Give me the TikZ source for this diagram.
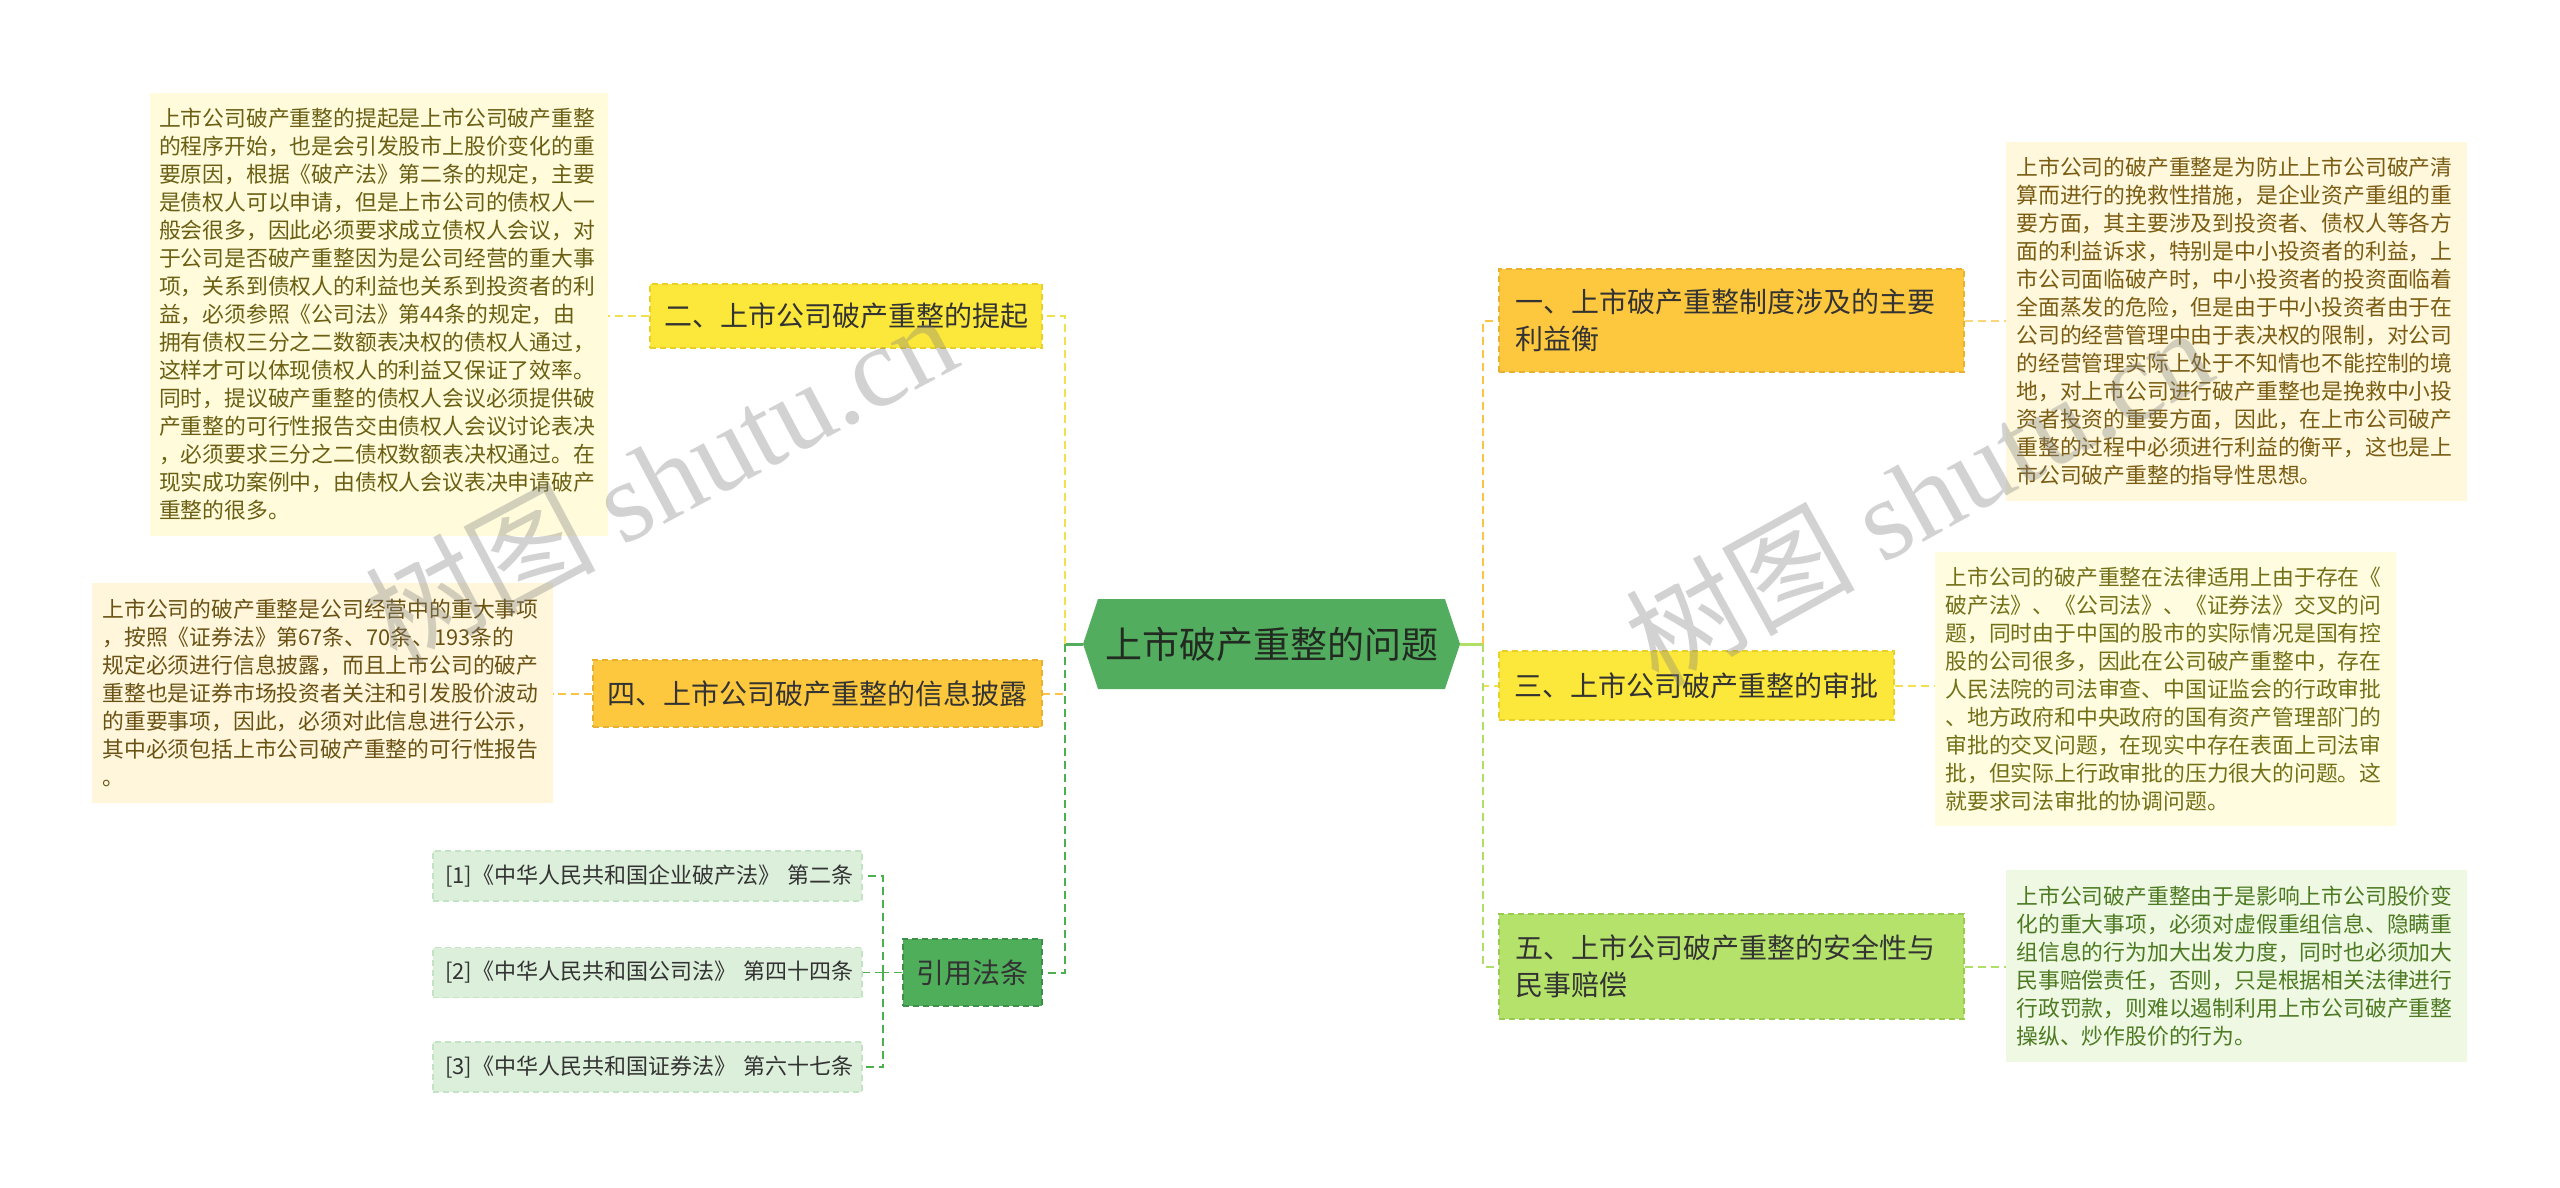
\documentclass[tikz,border=0pt]{standalone}
\usepackage{fontspec}
\setmainfont{Noto Sans CJK SC}
\newfontfamily\wmfont{Liberation Serif}
\usetikzlibrary{shapes.symbols}
\definecolor{cgreen}{HTML}{52AE5E}
\definecolor{ctext}{HTML}{222A22}
\definecolor{cyellow}{HTML}{FBE83A}
\definecolor{cyellowd}{HTML}{E8CF2A}
\definecolor{corange}{HTML}{FEC83E}
\definecolor{coranged}{HTML}{EAB030}
\definecolor{clgreen}{HTML}{B4E26A}
\definecolor{clgreend}{HTML}{98CC4E}
\definecolor{cgreentwo}{HTML}{4FAE5A}
\definecolor{cgreend}{HTML}{3E9048}
\definecolor{rfill}{HTML}{DCEFDB}
\definecolor{rdraw}{HTML}{C4E2C4}
\definecolor{rtext}{HTML}{333333}
\definecolor{btext}{HTML}{333333}
\definecolor{nfa}{HTML}{FFFBDB}
\definecolor{nta}{HTML}{6B5F14}
\definecolor{nfb}{HTML}{FFF6DC}
\definecolor{ntb}{HTML}{6A5214}
\definecolor{nfc}{HTML}{FFF8DD}
\definecolor{ntc}{HTML}{7A5C12}
\definecolor{nfd}{HTML}{FFFCDF}
\definecolor{ntd}{HTML}{737018}
\definecolor{nfe}{HTML}{EEF8E3}
\definecolor{nte}{HTML}{4D7A22}
\definecolor{lyellow}{HTML}{F2E04E}
\definecolor{lorange}{HTML}{FCC444}
\definecolor{lgreen}{HTML}{4CAF50}
\definecolor{llgreen}{HTML}{B0DF68}
\tikzset{
  cnode/.style={signal, signal to=west and east, signal pointer angle=143,
    fill=cgreen, minimum width=377pt, minimum height=90pt, inner sep=0pt,
    font=\fontsize{37}{40}\selectfont, text=ctext},
  branch/.style={rectangle, inner sep=0pt, text=btext,
    font=\fontsize{28}{37}\selectfont, dash pattern=on 6pt off 4pt, line width=1.5pt},
  note/.style={rectangle, inner sep=0pt, text width=440pt, align=left,
    font=\fontsize{21.8}{28}\selectfont},
  refbox/.style={rectangle, inner sep=0pt, fill=rfill, draw=rdraw,
    dash pattern=on 6pt off 4pt, line width=1.2pt, minimum width=429pt,
    minimum height=50pt, text width=405pt, align=left, text=rtext,
    font=\fontsize{22}{26}\selectfont},
  link/.style={line width=2pt, dash pattern=on 8pt off 5pt},
  reflink/.style={line width=1.6pt, dash pattern=on 8pt off 5pt, lgreen},
  solidlink/.style={line width=3pt},
  wm/.style={font=\fontsize{115}{115}\selectfont, text=gray, text opacity=0.35, inner sep=0pt}
}
\begin{document}
\begin{tikzpicture}[x=1pt,y=-1pt]
\useasboundingbox (0,0) rectangle (2560,1188);
\fill[white] (0,0) rectangle (2560,1188);

% center
\node[cnode] (c) at (1271.5,644) {上市破产重整的问题};

% left branches
\node[branch, fill=cyellow, draw=cyellowd, minimum width=392pt, minimum height=64pt] (b2) at (846,316) {二、上市公司破产重整的提起};
\node[branch, fill=corange, draw=coranged, minimum width=449pt, minimum height=67pt] (b4) at (817.5,693.5) {四、上市公司破产重整的信息披露};
\node[branch, fill=cgreentwo, draw=cgreend, minimum width=139pt, minimum height=67pt] (bref) at (972.5,972.5) {引用法条};

% right branches
\node[branch, fill=corange, draw=coranged, minimum width=465pt, minimum height=103pt, text width=433pt, align=left] (b1) at (1731.5,320.5) {一、上市破产重整制度涉及的主要\\利益衡};
\node[branch, fill=cyellow, draw=cyellowd, minimum width=395pt, minimum height=69pt] (b3) at (1696.5,685.5) {三、上市公司破产重整的审批};
\node[branch, fill=clgreen, draw=clgreend, minimum width=465pt, minimum height=105pt, text width=433pt, align=left] (b5) at (1731.5,966.5) {五、上市公司破产重整的安全性与\\民事赔偿};

% notes
\node[note, fill=nfa, text=nta, minimum width=458pt, minimum height=443pt] (t2) at (379,314.5) {上市公司破产重整的提起是上市公司破产重整\\的程序开始，也是会引发股市上股价变化的重\\要原因，根据《破产法》第二条的规定，主要\\是债权人可以申请，但是上市公司的债权人一\\般会很多，因此必须要求成立债权人会议，对\\于公司是否破产重整因为是公司经营的重大事\\项，关系到债权人的利益也关系到投资者的利\\益，必须参照《公司法》第44条的规定，由\\拥有债权三分之二数额表决权的债权人通过，\\这样才可以体现债权人的利益又保证了效率。\\同时，提议破产重整的债权人会议必须提供破\\产重整的可行性报告交由债权人会议讨论表决\\，必须要求三分之二债权数额表决权通过。在\\现实成功案例中，由债权人会议表决申请破产\\重整的很多。};
\node[note, fill=nfb, text=ntb, minimum width=461pt, minimum height=220pt] (t4) at (322.5,693) {上市公司的破产重整是公司经营中的重大事项\\，按照《证券法》第67条、70条、193条的\\规定必须进行信息披露，而且上市公司的破产\\重整也是证券市场投资者关注和引发股价波动\\的重要事项，因此，必须对此信息进行公示，\\其中必须包括上市公司破产重整的可行性报告\\。};
\node[note, fill=nfc, text=ntc, minimum width=461pt, minimum height=359pt] (t1) at (2236.5,321.5) {上市公司的破产重整是为防止上市公司破产清\\算而进行的挽救性措施，是企业资产重组的重\\要方面，其主要涉及到投资者、债权人等各方\\面的利益诉求，特别是中小投资者的利益，上\\市公司面临破产时，中小投资者的投资面临着\\全面蒸发的危险，但是由于中小投资者由于在\\公司的经营管理中由于表决权的限制，对公司\\的经营管理实际上处于不知情也不能控制的境\\地，对上市公司进行破产重整也是挽救中小投\\资者投资的重要方面，因此，在上市公司破产\\重整的过程中必须进行利益的衡平，这也是上\\市公司破产重整的指导性思想。};
\node[note, fill=nfd, text=ntd, minimum width=461pt, minimum height=274pt] (t3) at (2165.5,689) {上市公司的破产重整在法律适用上由于存在《\\破产法》、《公司法》、《证券法》交叉的问\\题，同时由于中国的股市的实际情况是国有控\\股的公司很多，因此在公司破产重整中，存在\\人民法院的司法审查、中国证监会的行政审批\\、地方政府和中央政府的国有资产管理部门的\\审批的交叉问题，在现实中存在表面上司法审\\批，但实际上行政审批的压力很大的问题。这\\就要求司法审批的协调问题。};
\node[note, fill=nfe, text=nte, minimum width=461pt, minimum height=192pt] (t5) at (2236.5,966) {上市公司破产重整由于是影响上市公司股价变\\化的重大事项，必须对虚假重组信息、隐瞒重\\组信息的行为加大出发力度，同时也必须加大\\民事赔偿责任，否则，只是根据相关法律进行\\行政罚款，则难以遏制利用上市公司破产重整\\操纵、炒作股价的行为。};

% references
\node[refbox] (r1) at (647.5,876) {\mbox{[1]《中华人民共和国企业破产法》 第二条}};
\node[refbox] (r2) at (647.5,972.5) {\mbox{[2]《中华人民共和国公司法》 第四十四条}};
\node[refbox] (r3) at (647.5,1067) {\mbox{[3]《中华人民共和国证券法》 第六十七条}};

% connectors
\coordinate (lj) at (1065,644);
\coordinate (rj) at (1483,644);
\coordinate (rs) at (883,972.5);
\draw[solidlink, cgreen] (c.west) -- (lj);
\draw[link, lyellow] (lj) |- (b2.east);
\draw[link, lorange] (lj) |- (b4.east);
\draw[link, lgreen] (lj) |- (bref.east);
\draw[solidlink, llgreen] (c.east) -- (rj);
\draw[link, lorange] (rj) |- (b1.west);
\draw[link, lyellow] (rj) |- (b3.west);
\draw[link, llgreen] (rj) |- (b5.west);

\draw[link, lyellow] (b2.west) -- (b2.west -| t2.east);
\draw[link, lorange] (b4.west) -- (b4.west -| t4.east);
\draw[link, lorange!70] (b1.east) -- (b1.east -| t1.west);
\draw[link, lyellow] (b3.east) -- (b3.east -| t3.west);
\draw[link, llgreen] (b5.east) -- (b5.east -| t5.west);

\draw[reflink] (bref.west) -- (rs);
\draw[reflink] (rs) |- (r1.east);
\draw[reflink] (rs) |- (r2.east);
\draw[reflink] (rs) |- (r3.east);

% watermarks
\node[wm, rotate=28] (w1) at (660,477) {树图 {\wmfont shutu.cn}};
\node[wm, rotate=29] (w2) at (1918,495) {树图 {\wmfont shutu.cn}};
\end{tikzpicture}
\end{document}
